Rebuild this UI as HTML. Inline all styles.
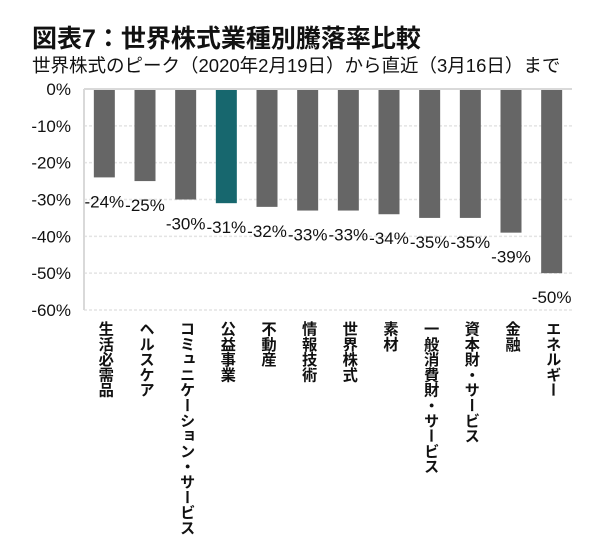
<!DOCTYPE html>
<html><head><meta charset="utf-8"><style>
body{margin:0;background:#fff;width:600px;height:555px;overflow:hidden;font-family:"Liberation Sans","Noto Sans CJK JP",sans-serif}
#title{position:absolute;left:32px;top:19px;font-size:25px;font-weight:bold;color:#111;white-space:nowrap}
#sub{position:absolute;left:32px;top:52px;font-size:18.5px;color:#111;white-space:nowrap}
</style></head><body>
<div id="title">図表7：世界株式業種別騰落率比較</div>
<div id="sub">世界株式のピーク（2020年2月19日）から直近（3月16日）まで</div>
<svg id="c" width="600" height="555" style="position:absolute;left:0;top:0"></svg>
<script>
const categories=["生活必需品","ヘルスケア","コミュニケーション・サービス","公益事業","不動産","情報技術","世界株式","素材","一般消費財・サービス","資本財・サービス","金融","エネルギー"];
const values=[-24,-25,-30,-31,-32,-33,-33,-34,-35,-35,-39,-50];
const highlight=[false,false,false,true,false,false,false,false,false,false,false,false];
const ticks=[0,-10,-20,-30,-40,-50,-60];
const tickLabels=["0%","-10%","-20%","-30%","-40%","-50%","-60%"];
const NS="http://www.w3.org/2000/svg";
const svg=document.getElementById('c');
const x0=84,x1=572,y0=89,y1=310,vmin=-60;
const y=v=>y0+(v/vmin)*(y1-y0);
const band=(x1-x0)/categories.length;
const cx=i=>x0+band*(i+0.5);
function mk(t,a){const e=document.createElementNS(NS,t);for(const k in a)e.setAttribute(k,a[k]);svg.appendChild(e);return e;}
ticks.forEach((t,i)=>{
  if(t!==0){const g=mk('line',{x1:x0,x2:x1,y1:y(t),y2:y(t),stroke:'#e4e4e4','stroke-width':1.5,'stroke-dasharray':'3,2'});
  }
  const l=mk('text',{x:71,y:y(t)+6,'text-anchor':'end','font-size':17,fill:'#111'});
  l.textContent=tickLabels[i];
  
  
});
const ax=mk('line',{x1:x0,x2:x0,y1:y0,y2:y1,stroke:'#d9d9d9','stroke-width':2});


values.forEach((v,i)=>{
  const b=mk('rect',{x:cx(i)-10.5,y:y(0),width:21,height:y(v)-y(0),fill:highlight[i]?'#17676e':'#666666'});
  
  
  const t=mk('text',{x:cx(i),y:y(v)+30,'text-anchor':'middle','font-size':17,fill:'#111'});
  t.textContent=v+'%';
  
  
});
const zl=mk('line',{x1:x0,x2:x1,y1:y0,y2:y0,stroke:'#d9d9d9','stroke-width':2});


categories.forEach((c,i)=>{
  const d=document.createElement('div');
  d.textContent=c;
  d.style.cssText='position:absolute;top:321px;left:'+(cx(i)-10)+'px;width:20px;writing-mode:vertical-rl;text-orientation:upright;font-size:15.3px;font-weight:bold;color:#111;line-height:20px';
  
  
  document.body.appendChild(d);
});
</script>
</body></html>
